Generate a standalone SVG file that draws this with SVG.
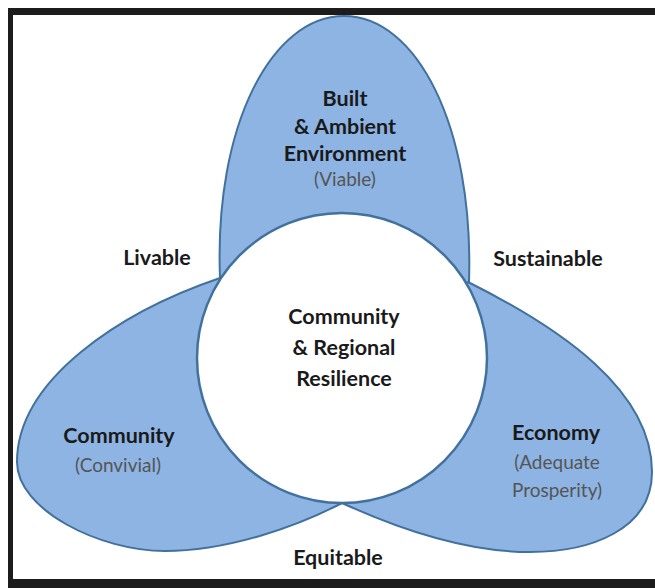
<svg xmlns="http://www.w3.org/2000/svg" width="655" height="588" viewBox="0 0 655 588">
  <style>
    .petal { fill: #8EB4E3; stroke: #41719C; stroke-width: 2; stroke-linejoin: round; }
    .core { fill: #FFFFFF; stroke: #41719C; stroke-width: 2.5; }
    .frame { fill: #1C1C1C; }
    text { font-family: "Lato", "Open Sans", "Liberation Sans", sans-serif; text-anchor: middle; }
    .title { font-weight: 700; font-size: 21.5px; fill: #1A1A1A; }
    .sub { font-weight: 400; font-size: 19px; fill: #555555; }
  </style>

  <!-- background and frame -->
  <rect x="0" y="0" width="655" height="588" fill="#FFFFFF"/>
  <rect class="frame" x="8" y="8" width="647" height="7"/>
  <rect class="frame" x="8" y="8" width="5" height="580"/>
  <rect class="frame" x="8" y="579" width="647" height="9"/>

  <!-- petals (inner parts are hidden under the core circle) -->
  <g id="built-environment">
    <path class="petal" d="M220 278 C214 125 272 16 344 16 C416 16 474 125 469 282 L342 358 Z"/>
    <text class="title" x="345" y="106">Built</text>
    <text class="title" x="345" y="134">&amp; Ambient</text>
    <text class="title" x="345" y="161">Environment</text>
    <text class="sub" x="345" y="186">(Viable)</text>
  </g>

  <g id="community">
    <path class="petal" d="M220 278 C120 312 17 380 17 462 C17 510 100 551 165 551 C230 551 300 525 342 503 L342 358 Z"/>
    <text class="title" x="119" y="443">Community</text>
    <text class="sub" x="118" y="472">(Convivial)</text>
  </g>

  <g id="economy">
    <path class="petal" d="M468 282 C560 328 652 390 652 472 C652 530 590 552 530 552 C460 552 390 525 342 503 L342 358 Z"/>
    <text class="title" x="556" y="440">Economy</text>
    <text class="sub" x="557" y="469">(Adequate</text>
    <text class="sub" x="557" y="497">Prosperity)</text>
  </g>

  <!-- central circle -->
  <g id="resilience">
    <circle class="core" cx="342" cy="358" r="145"/>
    <text class="title" x="344" y="324">Community</text>
    <text class="title" x="344" y="355">&amp; Regional</text>
    <text class="title" x="344" y="386">Resilience</text>
  </g>

  <!-- qualities between the petals -->
  <g id="livable"><text class="title" x="157" y="265">Livable</text></g>
  <g id="sustainable"><text class="title" x="548" y="266">Sustainable</text></g>
  <g id="equitable"><text class="title" x="338" y="565">Equitable</text></g>

  <g id="connectors"/>
</svg>
